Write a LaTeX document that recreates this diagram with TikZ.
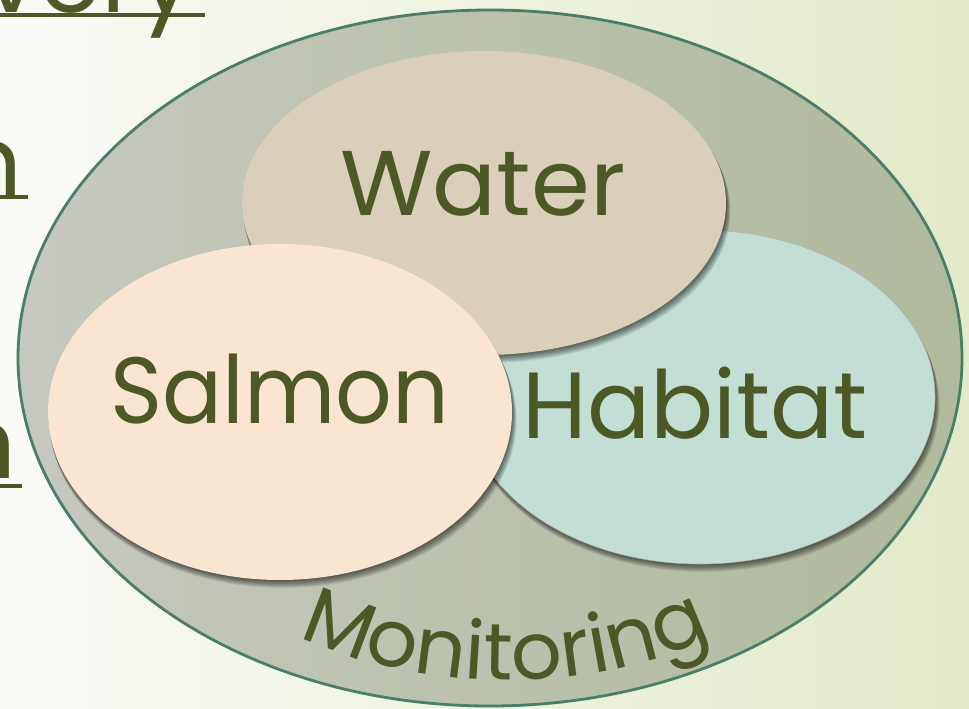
\documentclass[tikz,border=0pt]{standalone}
\usepackage{fontspec}
\setmainfont{Poppins}
\usetikzlibrary{decorations.text}

\definecolor{txtolive}{RGB}{76,88,37}
\definecolor{bgleft}{RGB}{250,251,247}
\definecolor{bgright}{RGB}{226,234,200}
\definecolor{outerleft}{RGB}{197,200,191}
\definecolor{outerright}{RGB}{176,186,156}
\definecolor{outerline}{RGB}{72,126,106}
\definecolor{waterfill}{RGB}{218,207,184}
\definecolor{habitatfill}{RGB}{195,223,213}
\definecolor{salmonfill}{RGB}{250,229,208}

\tikzset{
  labeltext/.style={text=txtolive, font=\fontsize{94}{98}\selectfont, inner sep=0pt, anchor=base},
  cuttext/.style={text=txtolive, font=\fontsize{100}{104}\selectfont, inner sep=0pt, anchor=base east},
  underline/.style={draw=txtolive, line width=4.5pt},
  shadowlayer/.style={fill=black, opacity=.07},
}

% ombre floue : centre x, centre y, rayon x, rayon y
\newcommand{\softshadow}[4]{%
  \foreach \s in {1,...,10}{
    \fill[shadowlayer] (#1+.3*\s,#2+.8*\s) ellipse [x radius=#3+.15*\s, y radius=#4];
  }%
}

\begin{document}
\begin{tikzpicture}[x=1pt,y=-1pt]
\useasboundingbox (0,0) rectangle (969,709);
\clip (0,0) rectangle (969,709);

%fond
\shade[left color=bgleft, right color=bgright] (0,0) rectangle (969,709);

%mots coupés à gauche
\node[cuttext] (recovery) at (195,13) {overy};
\draw[underline] ([yshift=-2pt]recovery.base west) -- ([xshift=10pt,yshift=-2pt]recovery.base east);
\node[cuttext] (wordone) at (23,197) {n};
\draw[underline] ([xshift=-5pt]wordone.base west) -- ([xshift=5pt]wordone.base east);
\node[cuttext] (wordtwo) at (17,478) {n};
\draw[underline] ([xshift=-5pt,yshift=-8pt]wordtwo.base west) -- ([xshift=5pt,yshift=-8pt]wordtwo.base east);

%grande ellipse
\shade[left color=outerleft, right color=outerright] (490,358) ellipse [x radius=472, y radius=348];
\draw[outerline, line width=2.8pt] (490,358) ellipse [x radius=472, y radius=348];

%ellipses intérieures
\softshadow{700}{397}{235}{167}
\fill[habitatfill] (700,397) ellipse [x radius=235, y radius=167];
\draw[gray!60, line width=.6pt] (700,397) ellipse [x radius=235, y radius=167];
\softshadow{484}{203}{242}{152}
\fill[waterfill] (484,203) ellipse [x radius=242, y radius=152];
\softshadow{280}{412}{232}{168}
\fill[salmonfill] (280,412) ellipse [x radius=232, y radius=168];

%textes
\node[labeltext, font=\fontsize{92}{96}\selectfont, xscale=1.03] (water) at (483,215) {Water};
\node[labeltext, xscale=.944] (salmon) at (280,423) {Salmon};
\node[labeltext, xscale=.994] (habitat) at (695,438) {Habitat};

\path[decorate, decoration={text along path, text align=center,
  text={|\fontsize{80}{84}\selectfont\color{txtolive}|Monitoring}}]
  (270,620) .. controls (400,700) and (620,700) .. (740,620);
\end{tikzpicture}
\end{document}
